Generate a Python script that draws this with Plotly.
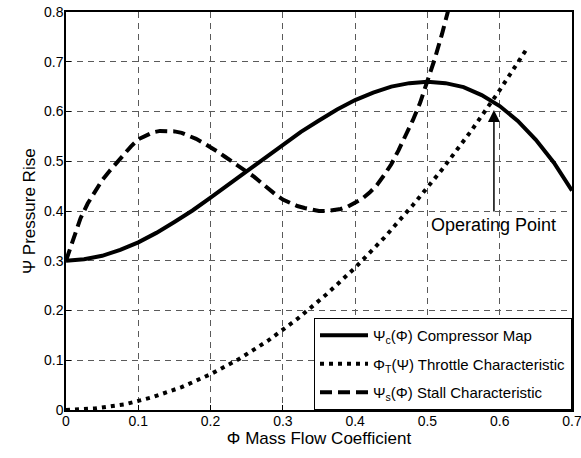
import plotly.graph_objects as go

# Compressor map Psi_c(Phi)
phi_c = [0.000, 0.025, 0.050, 0.075, 0.100, 0.125, 0.150, 0.175, 0.200, 0.225,
         0.250, 0.275, 0.300, 0.325, 0.350, 0.375, 0.400, 0.425, 0.450, 0.475,
         0.500, 0.525, 0.550, 0.575, 0.600, 0.625, 0.650, 0.675, 0.700]
psi_c = [0.300, 0.303, 0.310, 0.322, 0.337, 0.356, 0.378, 0.401, 0.427, 0.453,
         0.480, 0.507, 0.533, 0.559, 0.582, 0.604, 0.623, 0.638, 0.650, 0.657,
         0.660, 0.657, 0.649, 0.633, 0.611, 0.581, 0.543, 0.497, 0.441]

# Throttle characteristic Phi_T(Psi)
phi_t = [0.000, 0.040, 0.080, 0.120, 0.160, 0.200, 0.240, 0.280, 0.320,
         0.360, 0.400, 0.440, 0.480, 0.520, 0.560, 0.600, 0.637]
psi_t = [0.000, 0.003, 0.011, 0.026, 0.046, 0.072, 0.103, 0.140, 0.183,
         0.232, 0.286, 0.346, 0.412, 0.483, 0.560, 0.643, 0.725]

# Stall characteristic Psi_s(Phi)
phi_s = [0.00, 0.01, 0.02, 0.03, 0.04, 0.05, 0.06, 0.07, 0.08, 0.09,
         0.10, 0.11, 0.12, 0.13, 0.14, 0.15, 0.16, 0.17, 0.18, 0.19,
         0.20, 0.21, 0.22, 0.23, 0.24, 0.25, 0.26, 0.27, 0.28, 0.29,
         0.30, 0.31, 0.32, 0.33, 0.34, 0.35, 0.36, 0.37, 0.38, 0.39,
         0.40, 0.41, 0.42, 0.43, 0.44, 0.45, 0.46, 0.47, 0.48, 0.49,
         0.50, 0.51, 0.52, 0.53]
psi_s = [0.300, 0.345, 0.385, 0.415, 0.440, 0.462, 0.480, 0.497, 0.515, 0.530,
         0.544, 0.552, 0.558, 0.561, 0.561, 0.560, 0.557, 0.552, 0.545, 0.537,
         0.529, 0.519, 0.509, 0.499, 0.490, 0.481, 0.469, 0.457, 0.444, 0.433,
         0.423, 0.416, 0.410, 0.406, 0.402, 0.400, 0.400, 0.401, 0.404, 0.409,
         0.416, 0.425, 0.437, 0.452, 0.472, 0.494, 0.522, 0.552, 0.583, 0.618,
         0.660, 0.705, 0.755, 0.810]

x_ticks = [0, 0.1, 0.2, 0.3, 0.4, 0.5, 0.6, 0.7]
x_tick_text = ["0", "0.1", "0.2", "0.3", "0.4", "0.5", "0.6", "0.7"]
y_ticks = [0, 0.1, 0.2, 0.3, 0.4, 0.5, 0.6, 0.7, 0.8]
y_tick_text = ["0", "0.1", "0.2", "0.3", "0.4", "0.5", "0.6", "0.7", "0.8"]

# Operating point marker: arrow tip and tail
op_phi = 0.592
op_psi_tip = 0.603
op_psi_tail = 0.396

FONT = "Arial, Liberation Sans, sans-serif"

fig = go.Figure()
fig.add_trace(go.Scatter(
    x=phi_c, y=psi_c, mode="lines", legendgroup="c",
    name="Ψ<sub>c</sub>(Φ) Compressor Map",
    line=dict(color="black", width=4, dash="solid"),
))
fig.add_trace(go.Scatter(
    x=phi_t, y=psi_t, mode="lines", legendgroup="t",
    name="Φ<sub>T</sub>(Ψ) Throttle Characteristic",
    line=dict(color="black", width=4, dash="4px,5px"),
))
fig.add_trace(go.Scatter(
    x=phi_s, y=psi_s, mode="lines", legendgroup="s",
    name="Ψ<sub>s</sub>(Φ) Stall Characteristic",
    line=dict(color="black", width=4, dash="12px,6px"),
))

fig.add_annotation(
    x=op_phi, y=op_psi_tip, ax=op_phi, ay=op_psi_tail,
    xref="x", yref="y", axref="x", ayref="y",
    text="", showarrow=True, arrowhead=2, arrowsize=1.6, arrowwidth=1.5,
    arrowcolor="black",
)
fig.add_annotation(
    x=0.5017, y=0.372, xref="x", yref="y", xanchor="left", yanchor="middle",
    text="Operating Point", showarrow=False,
    font=dict(family=FONT, size=18, color="black"),
)

# y-axis title, placed close to the tick labels
fig.add_annotation(
    x=-0.073, y=0.5, xref="paper", yref="paper",
    xanchor="center", yanchor="middle", textangle=-90,
    text="Ψ Pressure Rise", showarrow=False,
    font=dict(family=FONT, size=17, color="black"),
)

axis_common = dict(
    showline=True, linecolor="black", linewidth=1.5, mirror=True,
    ticks="inside", ticklen=5, tickcolor="black",
    showgrid=True, gridcolor="#5a5a5a", gridwidth=1, griddash="6px,5px",
    zeroline=False, automargin=False, ticklabeloverflow="allow",
    tickfont=dict(family=FONT, size=14, color="black"),
)

fig.update_xaxes(
    range=[0, 0.7], tickvals=x_ticks, ticktext=x_tick_text,
    ticklabelstandoff=-3,
    title=dict(text="Φ Mass Flow Coefficient", standoff=0,
               font=dict(family=FONT, size=17, color="black")),
    **axis_common,
)
fig.update_yaxes(
    range=[0, 0.8], tickvals=y_ticks, ticktext=y_tick_text,
    ticklabelstandoff=-2,
    **axis_common,
)

fig.update_layout(
    width=581, height=458,
    margin=dict(l=66, r=9, t=12, b=48),
    paper_bgcolor="white", plot_bgcolor="white",
    showlegend=True,
    legend=dict(
        x=1, y=0, xanchor="right", yanchor="bottom",
        bgcolor="white", bordercolor="black", borderwidth=1,
        font=dict(family=FONT, size=15, color="black"),
        tracegroupgap=6, traceorder="grouped", itemwidth=48,
    ),
)

fig.write_html("out.html")
